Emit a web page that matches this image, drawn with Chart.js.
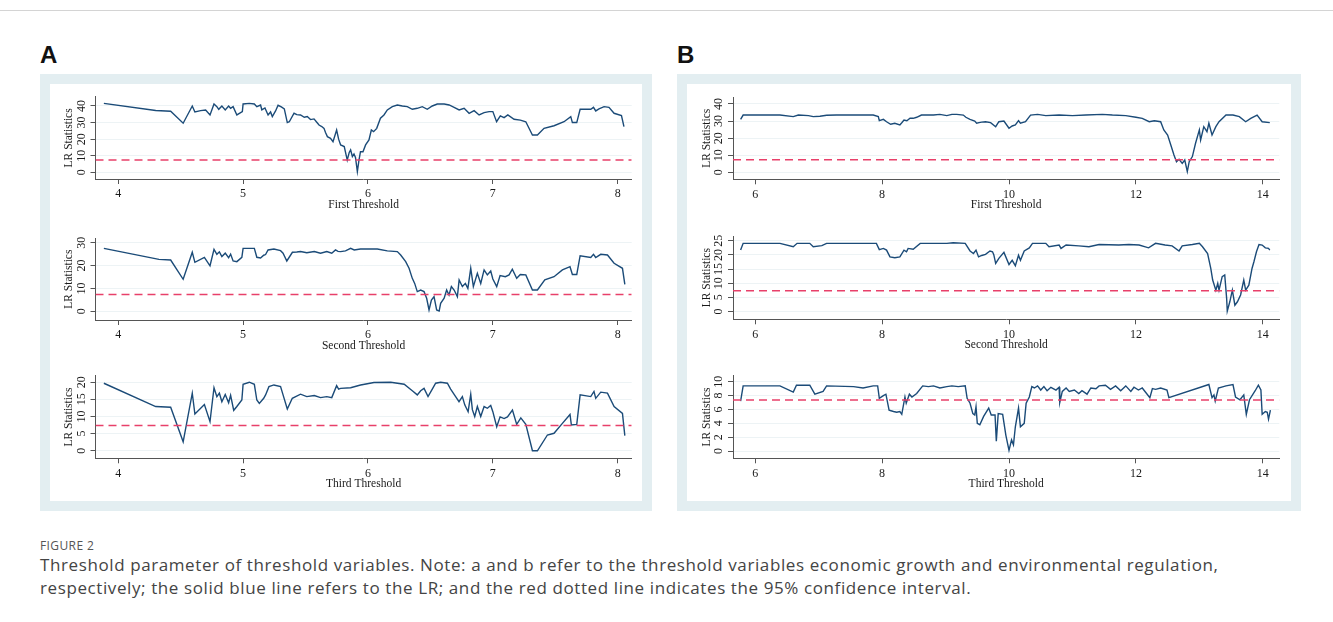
<!DOCTYPE html>
<html><head><meta charset="utf-8">
<script src="https://cdn.jsdelivr.net/npm/chart.js@4.4.1/dist/chart.umd.min.js"></script>
<style>
body{margin:0;width:1333px;height:622px;background:#fff;position:relative;overflow:hidden;font-family:"Open Sans",sans-serif}
.topline{position:absolute;left:0;top:10px;width:1333px;height:1px;background:#d4d4d4}
.lab{position:absolute;top:41px;font:bold 24px "Liberation Sans",Arial,sans-serif;color:#111}
.panel{position:absolute;top:74px;height:437px;background:#e3eef1}
.inner{position:absolute;left:10px;top:10px;right:10px;bottom:10px;background:#fff}
canvas{position:absolute}
.fig{position:absolute;left:40px;top:537px;font-size:12px;color:#555;letter-spacing:0.4px}
.cap{position:absolute;left:40px;font-size:17px;letter-spacing:0.6px;color:#444;white-space:nowrap}
</style></head><body>
<div class="topline"></div>
<div class="lab" style="left:40px">A</div>
<div class="lab" style="left:677px">B</div>
<div class="panel" style="left:40px;width:612px"><div class="inner"></div></div>
<div class="panel" style="left:677px;width:624px"><div class="inner"></div></div>
<div class="fig">FIGURE 2</div>
<div class="cap" style="top:553px">Threshold parameter of threshold variables. Note: a and b refer to the threshold variables economic growth and environmental regulation,</div>
<div class="cap" style="top:576px">respectively; the solid blue line refers to the LR; and the red dotted line indicates the 95% confidence interval.</div>
<script>
const critValue = 7.35;
const yTitle = 'LR Statistics';
const xTitles = ['First Threshold','Second Threshold','Third Threshold'];
const xTicksA = [4,5,6,7,8];
const xTicksB = [6,8,10,12,14];
const yTicksA1 = [0,10,20,30,40];
const yTicksA2 = [0,10,20,30];
const yTicksA3 = [0,5,10,15,20];
const yTicksB1 = [0,10,20,30,40];
const yTicksB2 = [0,5,10,15,20,25];
const yTicksB3 = [0,2,4,6,8,10];

const seriesA1 = [[3.885,41.6],[4.30,37.3],[4.42,36.8],[4.52,29.6],[4.593,40.0],[4.614,36.4],[4.66,37.2],[4.70,37.6],[4.735,34.6],[4.767,41.2],[4.79,39.6],[4.805,38],[4.83,40],[4.857,37.6],[4.884,40],[4.90,38.6],[4.92,39.6],[4.95,34.6],[4.994,36.6],[5.0,41.2],[5.05,41.6],[5.09,41.2],[5.11,39.6],[5.14,40.6],[5.15,37.6],[5.175,38.8],[5.20,34.6],[5.22,36.4],[5.234,33.6],[5.26,37],[5.28,40.4],[5.306,39.4],[5.33,38.2],[5.354,30],[5.37,30.5],[5.408,35.6],[5.43,34.8],[5.46,34.6],[5.49,33.2],[5.514,33.6],[5.54,31.8],[5.568,32.2],[5.59,30.2],[5.608,28.5],[5.63,27.6],[5.648,26.5],[5.66,24],[5.675,21.5],[5.70,20.5],[5.72,18.5],[5.749,25.5],[5.765,20],[5.781,16.5],[5.81,15.5],[5.834,7.4],[5.85,12],[5.861,13.5],[5.875,9.5],[5.888,11],[5.90,9],[5.915,0.4],[5.928,7.4],[5.94,12.4],[5.96,12.4],[5.981,16.5],[6.008,19.5],[6.027,25.5],[6.045,24.5],[6.07,26.5],[6.10,32.6],[6.128,34.6],[6.155,37.6],[6.195,39.6],[6.235,40.6],[6.275,40],[6.315,39.6],[6.355,38],[6.395,38.6],[6.435,39.6],[6.475,38],[6.515,40],[6.555,41.2],[6.61,41.2],[6.65,40.6],[6.69,39.2],[6.73,37.6],[6.77,38.6],[6.81,35.6],[6.85,37.2],[6.89,34.6],[6.93,36],[6.97,36.6],[7.0,36.6],[7.03,30.5],[7.06,34],[7.09,33],[7.12,34.6],[7.17,32],[7.22,31.5],[7.264,30.5],[7.317,22.5],[7.357,22.5],[7.41,26.5],[7.49,28.1],[7.57,30.5],[7.624,33.6],[7.637,30],[7.672,30],[7.699,38],[7.784,38],[7.806,39.2],[7.824,37],[7.85,38.2],[7.891,39.6],[7.93,39.2],[7.971,35.6],[8.03,34.2],[8.05,27.5]];

const seriesA2 = [[3.885,27.5],[4.326,22.7],[4.42,22.4],[4.52,14],[4.593,25.8],[4.614,21.4],[4.69,23.6],[4.735,19.9],[4.767,27.1],[4.79,24.9],[4.81,26],[4.83,23.9],[4.857,25.4],[4.884,23.4],[4.90,25],[4.92,22],[4.95,21.7],[4.99,23.6],[5.0,27.5],[5.06,27.5],[5.09,27.5],[5.11,23.6],[5.14,23.3],[5.165,24.5],[5.18,24.8],[5.20,26.8],[5.247,27.2],[5.30,26.5],[5.32,25.4],[5.35,22],[5.395,25.8],[5.43,25.9],[5.46,26.1],[5.51,25.6],[5.57,26.1],[5.62,25.4],[5.67,26.1],[5.71,25.4],[5.74,26.8],[5.76,26.2],[5.781,26.1],[5.82,26.4],[5.861,27.5],[5.89,26.8],[5.94,27.2],[5.995,27.2],[6.075,27.2],[6.155,26.4],[6.235,26.1],[6.262,24.6],[6.302,21.7],[6.329,18.8],[6.355,14.4],[6.374,12.2],[6.395,8.6],[6.422,9.3],[6.449,8.6],[6.47,5.7],[6.489,0.6],[6.508,4.9],[6.529,6.4],[6.55,0.6],[6.57,0.1],[6.582,3.5],[6.61,5.7],[6.63,9.3],[6.649,7.1],[6.668,10.8],[6.69,9.3],[6.716,6.4],[6.73,13.7],[6.756,10.8],[6.78,12.2],[6.80,10],[6.823,18.8],[6.844,10.8],[6.876,16.6],[6.903,12.2],[6.93,18.1],[6.956,15.9],[6.983,17.6],[7.0,14.1],[7.031,10.8],[7.058,15.6],[7.10,15.1],[7.13,15.9],[7.156,18.4],[7.191,14.4],[7.22,16.1],[7.264,15.9],[7.317,9.3],[7.357,9.3],[7.416,13.7],[7.49,15.1],[7.557,18.1],[7.618,19.5],[7.637,16.1],[7.672,16.1],[7.699,24.3],[7.784,23.5],[7.806,24.9],[7.824,23.5],[7.864,24.9],[7.918,24.6],[7.971,21],[8.038,18.8],[8.057,11.8]];

const seriesA3 = [[3.885,19.7],[4.30,12.9],[4.42,12.7],[4.52,2.6],[4.593,16.8],[4.614,10.7],[4.69,13.5],[4.735,8.5],[4.767,18.4],[4.79,15.8],[4.81,16.8],[4.83,14.3],[4.857,16.4],[4.884,14],[4.90,16.2],[4.925,11.8],[4.95,12.9],[4.99,14.8],[5.0,19.4],[5.05,20],[5.09,19.4],[5.11,14.8],[5.13,13.8],[5.165,15.3],[5.18,16.3],[5.207,18.7],[5.247,19.2],[5.30,18.7],[5.32,16.3],[5.354,12.2],[5.394,15.3],[5.46,16.5],[5.51,15.8],[5.57,16.1],[5.62,15.5],[5.67,15.8],[5.71,15.5],[5.749,19],[5.765,18],[5.781,18.2],[5.861,18.4],[5.941,19.2],[6.048,19.9],[6.182,20],[6.29,19.4],[6.355,17.5],[6.395,16.3],[6.422,17.5],[6.449,18.2],[6.481,15.8],[6.515,18],[6.542,19.7],[6.582,20],[6.636,19.7],[6.662,18],[6.702,15.8],[6.729,14.3],[6.756,15.8],[6.775,13.4],[6.802,11.4],[6.823,16.5],[6.836,12],[6.855,10],[6.876,12.9],[6.903,10],[6.93,12.9],[6.956,12.4],[6.983,13.2],[7.0,11.4],[7.031,7],[7.058,9.9],[7.09,9.4],[7.117,9.9],[7.157,11.9],[7.191,7.7],[7.224,9.6],[7.264,7.7],[7.317,0],[7.357,0],[7.437,4.6],[7.49,5.1],[7.557,8],[7.618,10.6],[7.629,7.5],[7.672,7.7],[7.699,16.3],[7.784,15.8],[7.81,17.3],[7.824,15.3],[7.864,17.1],[7.918,16.8],[7.971,12.9],[8.038,10.9],[8.057,4.4]];

const seriesB1 = [[5.77,31],[5.81,33.5],[6.126,33.5],[6.39,33.5],[6.6,32.6],[6.68,33.5],[6.84,33.2],[6.915,32.6],[7.02,32.8],[7.125,33.4],[7.28,33.5],[7.55,33.5],[7.86,33.5],[7.94,32.6],[7.956,30.2],[8.02,31],[8.07,29.6],[8.135,28.1],[8.2,28.7],[8.28,27.7],[8.31,29],[8.345,30.6],[8.39,30.2],[8.44,31.6],[8.49,31.6],[8.545,32.2],[8.62,33.5],[8.81,33.5],[8.91,33.9],[9.02,33.2],[9.10,33.9],[9.176,33.9],[9.28,33.5],[9.32,32.2],[9.385,31],[9.46,30],[9.49,28.7],[9.527,29.1],[9.57,29.4],[9.63,29.6],[9.71,29.1],[9.79,26.7],[9.84,29.6],[9.92,30],[10.0,25.8],[10.05,27.1],[10.1,27.7],[10.15,30.2],[10.18,28.7],[10.26,29.6],[10.34,33.5],[10.45,33.9],[10.58,33.2],[10.79,33.5],[11.0,33.2],[11.21,33.5],[11.47,33.9],[11.63,33.5],[11.84,33.2],[12.0,32.2],[12.1,31.6],[12.21,29.6],[12.29,30.2],[12.39,29.6],[12.44,24.8],[12.5,21.8],[12.55,16],[12.6,10.1],[12.64,6.2],[12.68,7.6],[12.73,5.2],[12.77,7.2],[12.81,0.4],[12.84,6.2],[12.89,9.2],[12.94,17],[13.0,24.8],[13.02,18.9],[13.07,26.7],[13.12,23.8],[13.15,28.7],[13.2,21.8],[13.26,26.7],[13.31,29.6],[13.42,33.5],[13.53,33.5],[13.63,32.6],[13.73,29.6],[13.81,31.6],[13.91,33.5],[13.99,29.6],[14.11,29.1]];

const seriesB2 = [[5.77,21.7],[5.81,24.1],[6.39,24.1],[6.6,22.9],[6.66,24.1],[6.86,24.1],[6.915,22.9],[7.05,23.3],[7.125,24.1],[7.91,24.1],[7.956,21.9],[8.02,22.3],[8.07,21.7],[8.124,19.3],[8.2,19],[8.28,19.3],[8.345,21.7],[8.385,21.1],[8.41,22.3],[8.49,22],[8.6,24.1],[8.81,24.1],[9.02,24.1],[9.12,24.3],[9.31,24.1],[9.386,21.4],[9.44,20.5],[9.48,21.7],[9.52,19.3],[9.57,19.8],[9.63,20.2],[9.70,21.4],[9.74,21.1],[9.76,20.1],[9.79,17],[9.84,18.8],[9.92,20.9],[10.0,16.6],[10.05,18.1],[10.1,16.2],[10.15,19.9],[10.18,18.1],[10.24,21.4],[10.32,22.5],[10.37,24.1],[10.58,24.1],[10.63,22.9],[10.79,23.5],[10.82,22.3],[10.9,23.5],[11.1,23.2],[11.26,22.9],[11.42,23.7],[11.73,23.5],[11.89,23.7],[12.05,23.5],[12.2,22.5],[12.31,24.1],[12.46,23.5],[12.57,23.2],[12.68,21.4],[12.73,23.2],[12.89,23.7],[13.0,24.1],[13.05,22.9],[13.13,20.5],[13.18,15.2],[13.21,11.1],[13.26,7.5],[13.29,9.9],[13.31,7.5],[13.36,12.3],[13.4,12.9],[13.43,4.6],[13.44,0.1],[13.48,3.4],[13.52,7.5],[13.56,2.2],[13.6,3.4],[13.65,5.8],[13.7,11.1],[13.73,7.5],[13.78,9.3],[13.83,15.2],[13.86,17.6],[13.9,21.1],[13.94,23.7],[13.99,23.5],[14.04,22.5],[14.09,22.3],[14.11,21.7]];

const seriesB3 = [[5.77,7.2],[5.81,9.4],[6.39,9.4],[6.6,8.5],[6.65,9.5],[6.86,9.5],[6.94,8.2],[7.07,8.6],[7.125,9.4],[7.55,9.3],[7.7,9.1],[7.86,9.4],[7.93,9.4],[7.956,7.6],[8.02,8],[8.06,8.2],[8.11,5.9],[8.18,5.7],[8.23,5.6],[8.28,5.7],[8.31,5.3],[8.36,7.8],[8.38,6.9],[8.43,8.2],[8.47,7.8],[8.545,8.3],[8.64,9.4],[8.73,9.3],[8.81,9.4],[8.91,9.1],[9.02,9.3],[9.1,9.4],[9.2,9.3],[9.31,9.4],[9.34,7.6],[9.386,6.9],[9.43,5.4],[9.46,5.2],[9.48,6.4],[9.5,4],[9.54,3.8],[9.6,5],[9.68,6.2],[9.72,5.2],[9.78,5.2],[9.8,1.4],[9.83,5.4],[9.9,5.3],[9.95,2.3],[10.0,0.1],[10.04,1.6],[10.07,0.9],[10.1,3.5],[10.15,6.2],[10.18,3.5],[10.24,4],[10.27,6.9],[10.32,7.8],[10.36,9.3],[10.4,9.1],[10.45,9.4],[10.5,8.8],[10.55,9.3],[10.6,8.7],[10.66,9.2],[10.74,8.8],[10.79,9.2],[10.8,7],[10.84,8.6],[10.9,9.1],[10.95,8.6],[11.03,8.8],[11.1,8.3],[11.15,8.7],[11.23,8.2],[11.29,9.1],[11.37,9.0],[11.42,9.4],[11.52,9.5],[11.6,8.9],[11.68,9.4],[11.76,8.7],[11.84,9.4],[11.92,8.6],[11.97,9.2],[12.04,8.8],[12.1,9.1],[12.22,7.7],[12.26,9],[12.31,8.9],[12.39,9.1],[12.49,8.8],[12.52,7.7],[13.15,9.6],[13.2,7.7],[13.23,8.1],[13.25,7.2],[13.3,9.1],[13.42,9.4],[13.53,9.6],[13.57,7.8],[13.64,7.4],[13.7,8.1],[13.74,5.3],[13.79,7.4],[13.88,8.7],[13.93,9.5],[13.97,8.8],[13.99,5.3],[14.04,5.7],[14.07,5.6],[14.09,4.6],[14.12,5.9]];

const TICKFONT = {family:'"Liberation Serif","Times New Roman",serif', size:12};
const TITLEFONT = {family:'"Liberation Serif","Times New Roman",serif', size:11.5};
const INK = '#1a1a1a';

function makeChart(area, series, xTicks, yTicks, xr, yr, xTitle){
  const Yw = 45, Xh = 33, pt = 12, pr = 8, pb = 4;
  const x0 = Math.round(area.l - Yw), y0 = Math.round(area.t - pt);
  const w = Math.round(area.r + pr - x0), h = Math.round(area.b + Xh + pb - y0);
  const c = document.createElement('canvas');
  c.width = w; c.height = h;
  c.style.left = x0 + 'px'; c.style.top = y0 + 'px';
  c.style.width = w + 'px'; c.style.height = h + 'px';
  document.body.appendChild(c);
  const padTop = area.t - y0, padBottom = (y0 + h) - (area.b + Xh), padRight = (x0 + w) - area.r, padLeft = (area.l - Yw) - x0;
  new Chart(c, {
    type: 'line',
    data: { datasets: [
      { data: [{x: xr[0], y: critValue}, {x: xr[1], y: critValue}], borderColor: '#e8406a', borderDash: [8,5], borderWidth: 1.5, pointRadius: 0 },
      { data: series.map(p => ({x: p[0], y: p[1]})), borderColor: '#1b4b78', borderWidth: 1.4, pointRadius: 0, tension: 0 }
    ]},
    options: {
      responsive: false, animation: false, devicePixelRatio: 1,
      layout: { padding: { top: padTop, bottom: padBottom, right: padRight, left: padLeft } },
      plugins: { legend: { display: false }, tooltip: { enabled: false } },
      scales: {
        x: { type: 'linear', min: xr[0], max: xr[1],
          afterBuildTicks: s => { s.ticks = xTicks.map(v => ({value: v})); },
          afterFit: s => { s.height = Xh; },
          grid: { drawOnChartArea: false, tickLength: 5, tickColor: '#555' },
          border: { color: '#555', width: 1 },
          ticks: { font: TICKFONT, color: INK, padding: 3, maxRotation: 0, autoSkip: false },
          title: { display: true, text: xTitle, font: TITLEFONT, color: INK, padding: {top: 0, bottom: 0} }
        },
        y: { min: yr[0], max: yr[1],
          afterBuildTicks: s => { s.ticks = yTicks.map(v => ({value: v})); },
          afterFit: s => { s.width = Yw; },
          grid: { color: '#edf3f5', tickLength: 5, tickColor: '#555' },
          border: { color: '#555', width: 1 },
          ticks: { font: TICKFONT, color: INK, padding: 3, minRotation: 90, maxRotation: 90, crossAlign: 'center', autoSkip: false },
          title: { display: true, text: yTitle, font: TITLEFONT, color: INK, padding: {top: 12, bottom: 0} }
        }
      }
    }
  });
}

const xrA = [3.818, 8.112], xrB = [5.65, 14.26];
makeChart({l:95.5, r:631.7, t:96.7, b:179}, seriesA1, xTicksA, yTicksA1, xrA, [-4.04, 45.6], xTitles[0]);
makeChart({l:95.5, r:631.7, t:238.3, b:320}, seriesA2, xTicksA, yTicksA2, xrA, [-3.8, 31.9], xTitles[1]);
makeChart({l:95.5, r:631.7, t:375.7, b:458.3}, seriesA3, xTicksA, yTicksA3, xrA, [-2.2, 21.9], xTitles[2]);
makeChart({l:733, r:1279.3, t:97.3, b:179.3}, seriesB1, xTicksB, yTicksB1, xrB, [-4.1, 43.9], xTitles[0]);
makeChart({l:733, r:1279.3, t:236, b:319.3}, seriesB2, xTicksB, yTicksB2, xrB, [-2.8, 26.7], xTitles[1]);
makeChart({l:733, r:1279.3, t:375.7, b:458.3}, seriesB3, xTicksB, yTicksB3, xrB, [-1.05, 10.87], xTitles[2]);
</script>
</body></html>
